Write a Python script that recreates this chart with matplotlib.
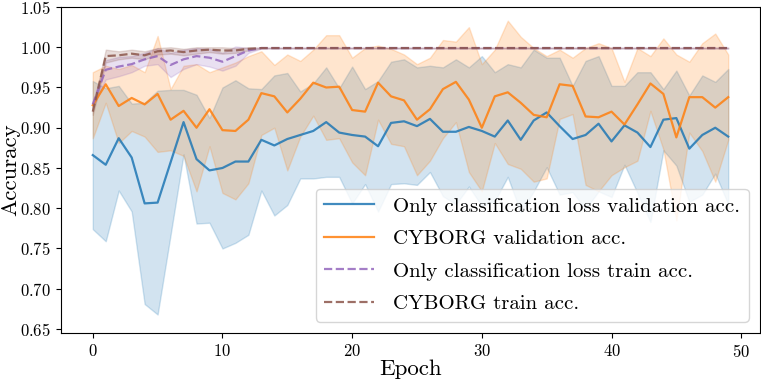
import numpy as np
import matplotlib
matplotlib.use("Agg")
import matplotlib.pyplot as plt

plt.rcParams['font.family'] = ['cmr10', 'DejaVu Serif']
plt.rcParams['mathtext.fontset'] = 'cm'
plt.rcParams['axes.formatter.use_mathtext'] = True

epochs = np.arange(50)

# only classification loss, validation
base_val = [0.866, 0.854, 0.887, 0.863, 0.806, 0.807, 0.857, 0.907, 0.861, 0.847,
            0.850, 0.858, 0.858, 0.885, 0.878, 0.886, 0.891, 0.896, 0.907, 0.894,
            0.891, 0.889, 0.877, 0.906, 0.908, 0.902, 0.911, 0.895, 0.895, 0.901,
            0.896, 0.889, 0.909, 0.885, 0.909, 0.919, 0.902, 0.886, 0.891, 0.905,
            0.883, 0.903, 0.894, 0.876, 0.910, 0.912, 0.874, 0.891, 0.900, 0.889]
base_val_std = [0.092, 0.095, 0.065, 0.067, 0.125, 0.139, 0.090, 0.040, 0.080, 0.065,
                0.100, 0.101, 0.091, 0.063, 0.087, 0.082, 0.054, 0.059, 0.068, 0.055,
                0.085, 0.059, 0.081, 0.076, 0.077, 0.073, 0.066, 0.080, 0.090, 0.074,
                0.093, 0.080, 0.070, 0.090, 0.088, 0.068, 0.085, 0.066, 0.092, 0.084,
                0.069, 0.049, 0.075, 0.093, 0.038, 0.059, 0.066, 0.074, 0.057, 0.084]

# CYBORG, validation
cyb_val = [0.928, 0.954, 0.927, 0.937, 0.929, 0.942, 0.910, 0.921, 0.900, 0.923,
           0.897, 0.896, 0.910, 0.943, 0.939, 0.919, 0.936, 0.956, 0.950, 0.951,
           0.922, 0.920, 0.956, 0.939, 0.934, 0.910, 0.923, 0.948, 0.957, 0.935,
           0.900, 0.939, 0.944, 0.931, 0.916, 0.913, 0.954, 0.952, 0.914, 0.913,
           0.920, 0.904, 0.929, 0.955, 0.942, 0.888, 0.938, 0.938, 0.925, 0.938]
cyb_val_std = [0.041, 0.023, 0.046, 0.041, 0.040, 0.072, 0.038, 0.056, 0.079, 0.046,
               0.078, 0.085, 0.079, 0.052, 0.039, 0.072, 0.047, 0.041, 0.065, 0.064,
               0.065, 0.079, 0.046, 0.059, 0.057, 0.069, 0.064, 0.061, 0.050, 0.090,
               0.079, 0.058, 0.089, 0.082, 0.083, 0.076, 0.043, 0.035, 0.085, 0.092,
               0.079, 0.053, 0.070, 0.034, 0.069, 0.103, 0.044, 0.067, 0.092, 0.053]

# only classification loss, train
base_train = [0.929, 0.972, 0.976, 0.979, 0.985, 0.989, 0.978, 0.985, 0.989, 0.987,
              0.982, 0.989, 0.996] + [0.999] * 37
base_train_std = [0.004, 0.012, 0.012, 0.010, 0.008, 0.010, 0.015, 0.012, 0.010, 0.011,
                  0.011, 0.012, 0.003] + [0.0005] * 37

# CYBORG, train
cyb_train = [0.920, 0.989, 0.990, 0.992, 0.990, 0.995, 0.996, 0.994, 0.996, 0.997,
             0.996, 0.996, 0.998] + [0.999] * 37
cyb_train_std = [0.004, 0.008, 0.005, 0.005, 0.005, 0.004, 0.004, 0.004, 0.004, 0.003,
                 0.004, 0.003, 0.002] + [0.0005] * 37

series = [
    (base_val, base_val_std, 'C0', '-', 'Only classification loss validation acc.'),
    (cyb_val, cyb_val_std, 'C1', '-', 'CYBORG validation acc.'),
    (base_train, base_train_std, 'C4', '--', 'Only classification loss train acc.'),
    (cyb_train, cyb_train_std, 'C5', '--', 'CYBORG train acc.'),
]

fig = plt.figure(figsize=(7.61, 3.81), dpi=100)
ax = fig.add_axes([61 / 761, 48 / 381, 699 / 761, 326 / 381])

for mean, std, color, ls, label in series:
    mean = np.array(mean)
    std = np.array(std)
    ax.plot(epochs, mean, color=color, linestyle=ls, linewidth=1.6, alpha=0.85, label=label)
    ax.fill_between(epochs, mean - std, mean + std, color=color, alpha=0.2)

ax.set_ylim(0.645, 1.05)
ax.set_yticks(np.arange(0.65, 1.051, 0.05))
ax.set_xticks([0, 10, 20, 30, 40, 50])
ax.tick_params(labelsize=12)
ax.set_xlabel('Epoch', fontsize=16.5, labelpad=0)
ax.set_ylabel('Accuracy', fontsize=16.5, labelpad=0)
ax.legend(loc='lower right', fontsize=15, labelspacing=0.67,
          handlelength=2.4, handletextpad=0.9, borderaxespad=0.55)

fig.savefig('out.png', dpi=100)
